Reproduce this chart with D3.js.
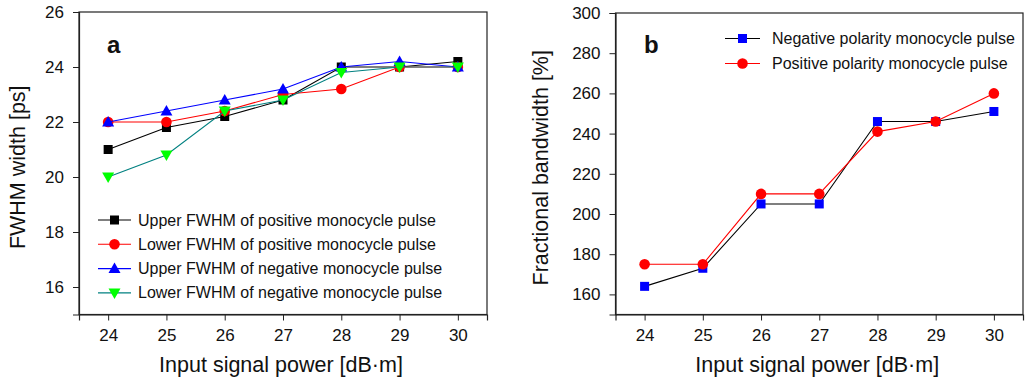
<!DOCTYPE html>
<html>
<head>
<meta charset="utf-8">
<script src="https://cdn.jsdelivr.net/npm/d3@7"></script>
<style>
  html, body { margin: 0; padding: 0; background: #fff; }
  svg { display: block; font-family: "Liberation Sans", Arial, sans-serif; }
</style>
</head>
<body>
<svg id="chart" width="1025" height="382"></svg>
<script>
// ---------- data ----------
const power = [24, 25, 26, 27, 28, 29, 30];

// panel a: FWHM width [ps]
const upperPos = [21.0, 21.8, 22.2, 22.8, 24.0, 24.0, 24.2];
const lowerPos = [22.0, 22.0, 22.4, 23.0, 23.2, 24.0, 24.0];
const upperNeg = [22.0, 22.4, 22.8, 23.2, 24.0, 24.2, 24.0];
const lowerNeg = [20.0, 20.8, 22.4, 22.8, 23.8, 24.0, 24.0];
const fwhmTicks = [16, 18, 20, 22, 24, 26];
const legendA = [
  "Upper FWHM of positive monocycle pulse",
  "Lower FWHM of positive monocycle pulse",
  "Upper FWHM of negative monocycle pulse",
  "Lower FWHM of negative monocycle pulse"
];

// panel b: Fractional bandwidth [%]
const negPolarity = [164, 173, 205, 205, 246, 246, 251];
const posPolarity = [175, 175, 210, 210, 241, 246, 260];
const bwTicks = [160, 180, 200, 220, 240, 260, 280, 300];
const legendB = [
  "Negative polarity monocycle pulse",
  "Positive polarity monocycle pulse"
];

const xTicks = [24, 25, 26, 27, 28, 29, 30];

// ---------- drawing ----------
const svg = d3.select("#chart");

function marker(g, type, cx, cy, fill) {
  if (type === "square") {
    g.append("rect").attr("x", cx - 4.5).attr("y", cy - 4.5)
      .attr("width", 9).attr("height", 9).attr("fill", fill);
  } else if (type === "circle") {
    g.append("circle").attr("cx", cx).attr("cy", cy).attr("r", 5.3).attr("fill", fill);
  } else if (type === "up") {
    const s = 6;
    g.append("path").attr("d", `M${cx},${cy - s}L${cx + s},${cy + s * 0.75}L${cx - s},${cy + s * 0.75}Z`).attr("fill", fill);
  } else if (type === "down") {
    const s = 6;
    g.append("path").attr("d", `M${cx},${cy + s}L${cx + s},${cy - s * 0.75}L${cx - s},${cy - s * 0.75}Z`).attr("fill", fill);
  }
}

function panel(opts) {
  const { left, top, right, bottom, yDomain, yTicks, yMinor, series, yTitle, yTitleX, letter, letterX, legend } = opts;
  const g = svg.append("g");
  const x = d3.scaleLinear().domain([23.5, 30.5]).range([left, right]);
  const y = d3.scaleLinear().domain(yDomain).range([bottom, top]);

  // frame
  g.append("rect").attr("x", left).attr("y", top).attr("width", right - left).attr("height", bottom - top)
    .attr("fill", "none").attr("stroke", "#222").attr("stroke-width", 1.2);

  // x axis
  const xMinor = d3.range(23.5, 30.51, 0.5);
  const xa = g.append("g").attr("transform", `translate(0,${bottom})`);
  xa.call(d3.axisBottom(x).tickValues(xMinor).tickFormat("").tickSize(3.5));
  xa.call(d3.axisBottom(x).tickValues(xTicks).tickFormat(d3.format("d")).tickSize(6).tickPadding(8));
  xa.selectAll(".domain").attr("stroke", "#222").attr("stroke-width", 1.2);
  xa.selectAll("line").attr("stroke", "#222");
  xa.selectAll("text").attr("font-size", 17).attr("fill", "#111").attr("font-family", "Liberation Sans, Arial, sans-serif");

  // y axis
  const ya = g.append("g").attr("transform", `translate(${left},0)`);
  ya.call(d3.axisLeft(y).tickValues(yMinor).tickFormat("").tickSize(3.5));
  ya.call(d3.axisLeft(y).tickValues(yTicks).tickFormat(d3.format("d")).tickSize(6).tickPadding(9));
  ya.selectAll(".domain").attr("stroke", "#222").attr("stroke-width", 1.2);
  ya.selectAll("line").attr("stroke", "#222");
  ya.selectAll("text").attr("font-size", 17).attr("fill", "#111").attr("font-family", "Liberation Sans, Arial, sans-serif");

  // titles
  g.append("text").attr("x", (left + right) / 2 - 2).attr("y", 372).attr("text-anchor", "middle")
    .attr("font-size", 21.5).attr("fill", "#111").text("Input signal power [dB·m]");
  g.append("text").attr("transform", `translate(${yTitleX},${(top + bottom) / 2 + 4}) rotate(-90)`)
    .attr("text-anchor", "middle").attr("font-size", 21.5).attr("fill", "#111").text(yTitle);

  // letter
  g.append("text").attr("x", letterX).attr("y", 53).attr("font-size", 24).attr("font-weight", "bold")
    .attr("fill", "#111").text(letter);

  // series
  const line = d3.line().x((d, i) => x(power[i])).y(d => y(d));
  series.forEach(s => {
    const sg = g.append("g");
    sg.append("path").datum(s.values).attr("d", line).attr("fill", "none")
      .attr("stroke", s.line).attr("stroke-width", 1.1);
    s.values.forEach((v, i) => marker(sg, s.shape, x(power[i]), y(v), s.fill));
  });

  // legend
  series.forEach((s, i) => {
    const ly = legend.y + i * legend.dy;
    const lg = g.append("g");
    lg.append("line").attr("x1", legend.x).attr("x2", legend.x + legend.len).attr("y1", ly).attr("y2", ly)
      .attr("stroke", s.line).attr("stroke-width", 1.1);
    marker(lg, s.shape, legend.x + legend.len / 2, ly, s.fill);
    lg.append("text").attr("x", legend.textX).attr("y", ly + 5.5).attr("font-size", 16)
      .attr("fill", "#111").text(legend.labels[i]);
  });
}

panel({
  left: 79, top: 12, right: 487, bottom: 314.5,
  yDomain: [15, 26], yTicks: fwhmTicks, yMinor: d3.range(15, 26.01, 1),
  yTitle: "FWHM width [ps]", yTitleX: 25, letter: "a", letterX: 107,
  series: [
    { values: upperPos, shape: "square", fill: "#000", line: "#000" },
    { values: lowerPos, shape: "circle", fill: "#ff0000", line: "#ff0000" },
    { values: upperNeg, shape: "up", fill: "#0000ff", line: "#0000ff" },
    { values: lowerNeg, shape: "down", fill: "#00ff00", line: "#008080" }
  ],
  legend: { x: 98, len: 33, textX: 138, y: 220, dy: 24.3, labels: legendA }
});

panel({
  left: 615.5, top: 13, right: 1023, bottom: 314.5,
  yDomain: [150, 300], yTicks: bwTicks, yMinor: d3.range(150, 300.01, 10),
  yTitle: "Fractional bandwidth [%]", yTitleX: 548, letter: "b", letterX: 644,
  series: [
    { values: negPolarity, shape: "square", fill: "#0000ff", line: "#000" },
    { values: posPolarity, shape: "circle", fill: "#ff0000", line: "#ff0000" }
  ],
  legend: { x: 725, len: 35, textX: 772, y: 38.5, dy: 25, labels: legendB }
});
</script>
</body>
</html>
